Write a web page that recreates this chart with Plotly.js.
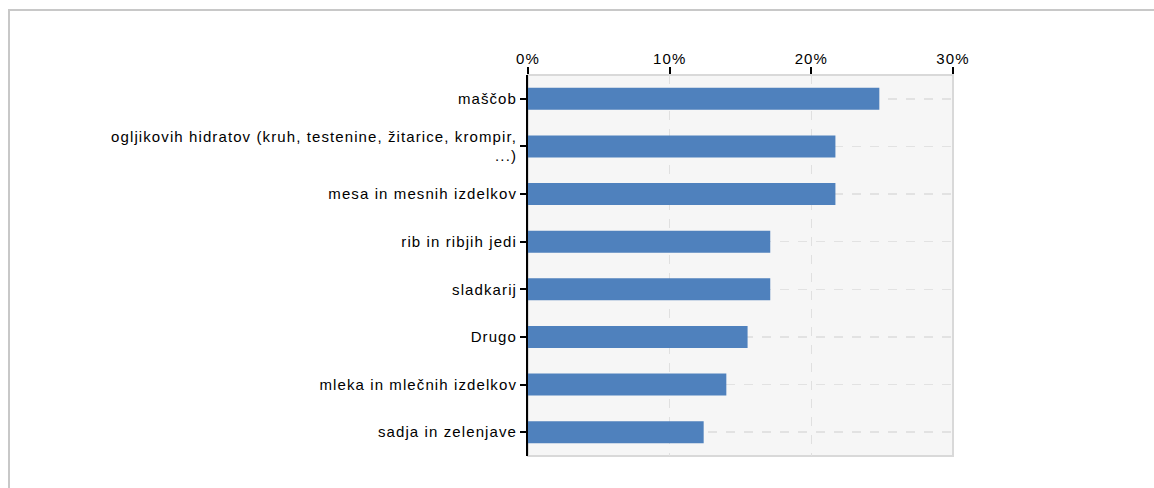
<!DOCTYPE html>
<html>
<head>
<meta charset="utf-8">
<script src="https://cdn.plot.ly/plotly-3.0.1.min.js"></script>
<style>
  html, body { margin: 0; padding: 0; background: #ffffff; }
  #frame { position: absolute; left: 8px; top: 9px; width: 1160px; height: 500px;
           border-top: 2px solid #c8c8c8; border-left: 2px solid #c8c8c8; box-sizing: border-box; }
  #chart { position: absolute; left: 0; top: 0; width: 1154px; height: 488px; }
  .ytick text, .xtick text { letter-spacing: 1.1px; }
</style>
</head>
<body>
<div id="frame"></div>
<div id="chart"></div>
<script>
const categories = [
  "maščob",
  "ogljikovih hidratov (kruh, testenine, žitarice, krompir,<br>...)",
  "mesa in mesnih izdelkov",
  "rib in ribjih jedi",
  "sladkarij",
  "Drugo",
  "mleka in mlečnih izdelkov",
  "sadja in zelenjave"
];
const values = [0.248, 0.217, 0.217, 0.171, 0.171, 0.155, 0.140, 0.124];
const tickVals = [0, 0.1, 0.2, 0.3];
const tickText = ["0%", "10%", "20%", "30%"];

const trace = {
  type: "bar",
  orientation: "h",
  x: values,
  y: categories,
  marker: { color: "#4f81bd" },
  hoverinfo: "x+y"
};

const layout = {
  width: 1154,
  height: 488,
  margin: { l: 528, r: 201, t: 75, b: 32 },
  paper_bgcolor: "rgba(0,0,0,0)",
  plot_bgcolor: "#f6f6f6",
  showlegend: false,
  bargap: 0.54,
  font: { family: "Liberation Sans, Arial, sans-serif", size: 15, color: "#000000" },
  xaxis: {
    side: "top",
    range: [0, 0.30],
    tickvals: tickVals,
    ticktext: tickText,
    ticks: "outside",
    ticklen: 7,
    tickwidth: 2,
    tickcolor: "#000000",
    ticklabelstandoff: -3,
    showgrid: true,
    gridcolor: "#e0e0e0",
    griddash: "dash",
    gridwidth: 1.5,
    zeroline: false,
    showline: false,
    tickfont: { size: 15, color: "#000000" },
    fixedrange: true
  },
  yaxis: {
    autorange: "reversed",
    type: "category",
    ticks: "outside",
    ticklen: 6,
    tickwidth: 2,
    tickcolor: "#000000",
    showgrid: true,
    gridcolor: "#e2e2e2",
    griddash: "dash",
    gridwidth: 1.5,
    showline: true,
    linecolor: "#000000",
    linewidth: 2,
    zeroline: false,
    tickfont: { size: 15, color: "#000000" },
    fixedrange: true
  },
  shapes: [{
    type: "rect", xref: "paper", yref: "paper",
    x0: 0, x1: 1, y0: 0, y1: 1,
    line: { color: "#d9d9d9", width: 2 },
    layer: "below"
  }]
};

Plotly.newPlot("chart", [trace], layout, { displayModeBar: false, staticPlot: true });
</script>
</body>
</html>
